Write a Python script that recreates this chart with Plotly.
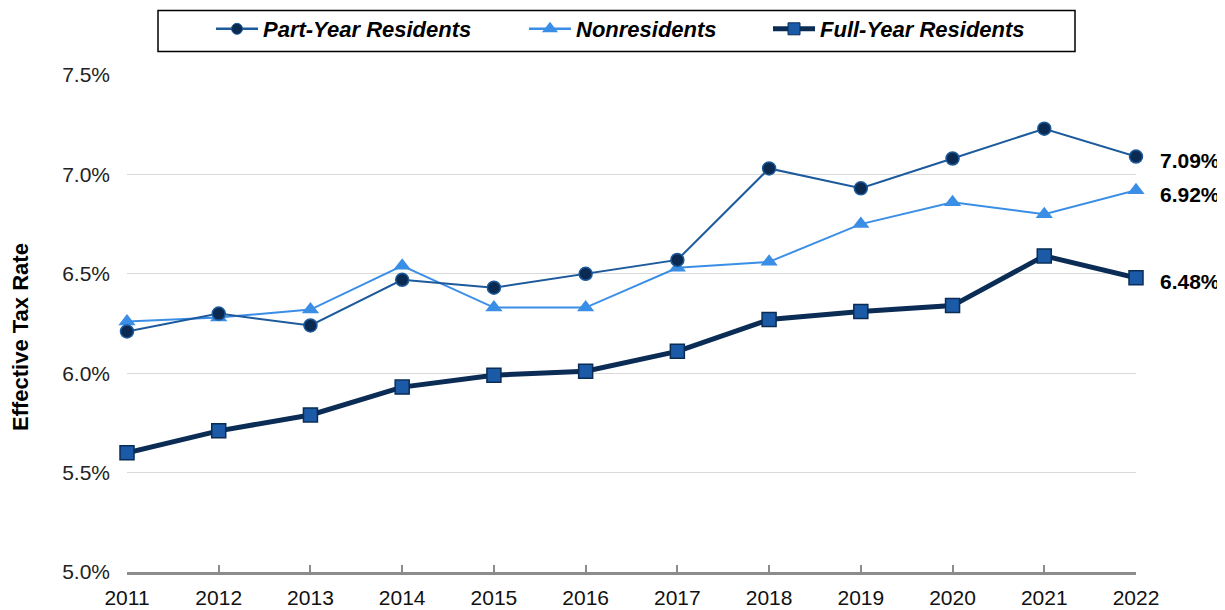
import plotly.graph_objects as go

years = [2011, 2012, 2013, 2014, 2015, 2016, 2017, 2018, 2019, 2020, 2021, 2022]
part_year = [6.21, 6.30, 6.24, 6.47, 6.43, 6.50, 6.57, 7.03, 6.93, 7.08, 7.23, 7.09]
nonres = [6.26, 6.28, 6.32, 6.54, 6.33, 6.33, 6.53, 6.56, 6.75, 6.86, 6.80, 6.92]
full_year = [5.60, 5.71, 5.79, 5.93, 5.99, 6.01, 6.11, 6.27, 6.31, 6.34, 6.59, 6.48]
names = ["Part-Year Residents", "Nonresidents", "Full-Year Residents"]
y_ticks = [5.0, 5.5, 6.0, 6.5, 7.0, 7.5]

FONT = "Liberation Sans, Arial, sans-serif"
C_PY_LINE = "#1c5a9c"
C_PY_FILL = "#0b2a52"
C_NR = "#3b8ee6"
C_FY_LINE = "#0a2c55"
C_FY_FILL = "#1a5aa6"

# page body has an 8px margin; target pixel coords are given in window space
OFF = 8
W = 1225
H = 610
L = 127 - OFF
R = 1136 - OFF
T = 75 - OFF
B = 572 - OFF
pw = R - L
ph = B - T
ITEMW = 42


def px_x(p):
    return (p - OFF - L) / pw


def px_y(p):
    return (B - (p - OFF)) / ph


def cx(p):
    return (p - OFF) / W


def cy(p):
    return 1 - (p - OFF) / H


fig = go.Figure()

fig.add_trace(go.Scatter(
    x=years, y=nonres, mode="lines+markers", showlegend=False, cliponaxis=False,
    line=dict(color=C_NR, width=2),
    marker=dict(symbol="triangle-up", size=15, color=C_NR, line=dict(width=0)),
))
fig.add_trace(go.Scatter(
    x=years, y=part_year, mode="lines+markers", showlegend=False, cliponaxis=False,
    line=dict(color=C_PY_LINE, width=2),
    marker=dict(symbol="circle", size=13, color=C_PY_FILL, line=dict(color=C_PY_LINE, width=1.5)),
))
fig.add_trace(go.Scatter(
    x=years, y=full_year, mode="lines+markers", showlegend=False, cliponaxis=False,
    line=dict(color=C_FY_LINE, width=5),
    marker=dict(symbol="square", size=14, color=C_FY_FILL, line=dict(color=C_FY_LINE, width=1.5)),
))

fig.add_trace(go.Scatter(
    x=[None], y=[None], mode="lines+markers", name=names[0], legend="legend",
    line=dict(color=C_PY_LINE, width=2.5),
    marker=dict(symbol="circle", size=11, color=C_PY_FILL, line=dict(color=C_PY_LINE, width=1)),
))
fig.add_trace(go.Scatter(
    x=[None], y=[None], mode="lines+markers", name=names[1], legend="legend2",
    line=dict(color=C_NR, width=2.5),
    marker=dict(symbol="triangle-up", size=14, color=C_NR, line=dict(width=0)),
))
fig.add_trace(go.Scatter(
    x=[None], y=[None], mode="lines+markers", name=names[2], legend="legend3",
    line=dict(color=C_FY_LINE, width=5),
    marker=dict(symbol="square", size=12, color=C_FY_FILL, line=dict(color=C_FY_LINE, width=1)),
))

legend_font = dict(family=FONT, size=22, color="#000000", weight="bold", style="italic")
common_leg = dict(orientation="h", yanchor="middle", xanchor="left",
                  xref="container", yref="container", y=cy(29), itemwidth=ITEMW,
                  bgcolor="rgba(0,0,0,0)", borderwidth=0, font=legend_font)

fig.update_layout(
    width=W, height=H, autosize=False,
    margin=dict(l=L, r=W - R, t=T, b=H - B, pad=0, autoexpand=False),
    paper_bgcolor="white", plot_bgcolor="white",
    font=dict(family=FONT, size=21, color="#222222"),
    legend=dict(x=cx(263 - ITEMW - 10), **common_leg),
    legend2=dict(x=cx(576 - ITEMW - 10), **common_leg),
    legend3=dict(x=cx(820 - ITEMW - 10), **common_leg),
    xaxis=dict(
        range=[years[0], years[-1]], tickmode="array", tickvals=years,
        ticktext=[str(y) for y in years],
        showgrid=False, zeroline=False, automargin=False,
        showline=True, linecolor="#8c8c8c", linewidth=3,
        ticks="inside", ticklen=7, tickwidth=2, tickcolor="#8c8c8c",
        tickfont=dict(family=FONT, size=21, color="#111111"),
        ticklabelstandoff=5,
    ),
    yaxis=dict(
        range=[5.0, 7.5], tickmode="array", tickvals=y_ticks,
        ticktext=[f"{v:.1f}%" for v in y_ticks],
        showgrid=True, gridcolor="#d9d9d9", gridwidth=1,
        zeroline=False, showline=False, ticks="", automargin=False,
        tickfont=dict(family=FONT, size=21, color="#222222"),
        ticklabelstandoff=16,
    ),
    shapes=[dict(
        type="rect", xref="paper", yref="paper",
        x0=px_x(158), x1=px_x(1075), y0=px_y(51.5), y1=px_y(10.5),
        line=dict(color="#000000", width=1.5), fillcolor="rgba(0,0,0,0)",
    )],
)

fig.add_annotation(
    text="<b>Effective Tax Rate</b>", xref="paper", yref="paper",
    x=px_x(20), y=px_y(337), xanchor="center", yanchor="middle",
    textangle=-90, showarrow=False,
    font=dict(family=FONT, size=22, color="#000000"),
)

end_vals = [part_year[-1], nonres[-1], full_year[-1]]
for v in end_vals:
    fig.add_annotation(
        text=f"<b>{v:.2f}%</b>", x=years[-1], y=v, xref="x", yref="y",
        xanchor="left", yanchor="middle", xshift=22, yshift=-4,
        showarrow=False, font=dict(family=FONT, size=21, color="#000000"),
    )

fig.write_html("out.html")
